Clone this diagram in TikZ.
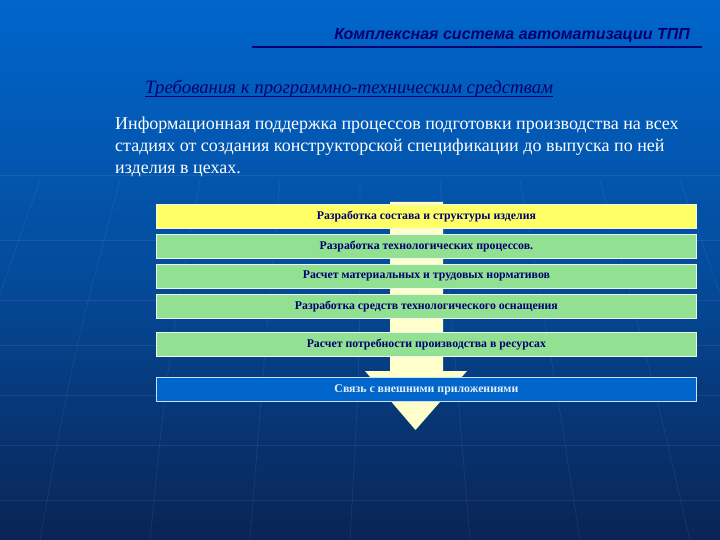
\documentclass[tikz,border=0pt]{standalone}
\usepackage{fontspec}
\setmainfont{Liberation Serif}
\newfontfamily\titlefont{Liberation Sans}
\usetikzlibrary{calc}
\definecolor{bgtop}{RGB}{0,102,204}
\definecolor{bgbot}{RGB}{10,36,84}
\definecolor{navy}{RGB}{0,0,110}
\definecolor{boxyellow}{RGB}{255,255,102}
\definecolor{boxgreen}{RGB}{146,224,146}
\definecolor{boxblue}{RGB}{0,102,204}
\definecolor{arrowfill}{RGB}{255,255,204}
\tikzset{
  stage/.style={draw=white!85!boxgreen, line width=0.8pt, minimum width=540pt, minimum height=24pt,
    inner sep=0pt, font=\fontsize{11.8}{13}\selectfont\bfseries, text=navy, anchor=north west},
  gridline/.style={white, opacity=0.07, line width=0.7pt}
}
\begin{document}
\begin{tikzpicture}[x=1pt,y=-1pt]
\useasboundingbox (0,0) rectangle (720,540);
% background
\shade[top color=bgtop, bottom color=bgbot, middle color=bgtop!60!bgbot] (0,0) rectangle (720,540);
% faint globe lines
\foreach \yy in {175,240,300,345,395,445,500} {\draw[gridline] (0,\yy) -- (720,\yy);}
\foreach \xx/\bx in {40/-60,120/40,200/150,280/250,360/350,440/470,520/580,600/690,680/790} {
  \draw[gridline] (\xx,180) .. controls (\xx+0.2*\xx-72,360) .. (\bx,540);}
% title
\node[anchor=base east, font=\titlefont\fontsize{16}{18}\selectfont\bfseries\itshape, text=navy, inner sep=0pt] (title) at (690,40) {Комплексная система автоматизации ТПП};
\draw[navy, line width=1.6pt] (252,47) -- (702,47);
% subtitle
\node[anchor=base west, font=\fontsize{18.8}{20}\selectfont\itshape, text=navy, inner sep=0pt] (sub) at (145,94) {Требования к программно-техническим средствам};
\draw[navy, line width=0.8pt] (sub.base west) ++(0,2.5) -- ($(sub.base east)+(0,2.5)$);
% paragraph
\node[anchor=north west, align=left, font=\fontsize{18}{22}\selectfont, text=white, inner sep=0pt] (para) at (115,117)
{Информационная поддержка процессов подготовки производства на всех\\
стадиях от создания конструкторской спецификации до выпуска по ней\\
изделия в цехах.};
% arrow
\fill[arrowfill] (390,202) -- (443,202) -- (443,371) -- (467,371) -- (415.5,430) -- (365,371) -- (390,371) -- cycle;
% stages
\node[stage, fill=boxyellow] (b1) at (156,204) {Разработка состава и структуры изделия};
\node[stage, fill=boxgreen] (b2) at (156,234) {Разработка технологических процессов.};
\node[stage, fill=boxgreen] (b3) at (156,264) {Расчет материальных и трудовых нормативов};
\node[stage, fill=boxgreen] (b4) at (156,294) {Разработка средств технологического оснащения};
\node[stage, fill=boxgreen] (b5) at (156,332) {Расчет потребности производства в ресурсах};
\node[stage, fill=boxblue, text=white!90!boxblue, draw=white!80!boxblue] (b6) at (156,377) {Связь с внешними приложениями};
\end{tikzpicture}
\end{document}
